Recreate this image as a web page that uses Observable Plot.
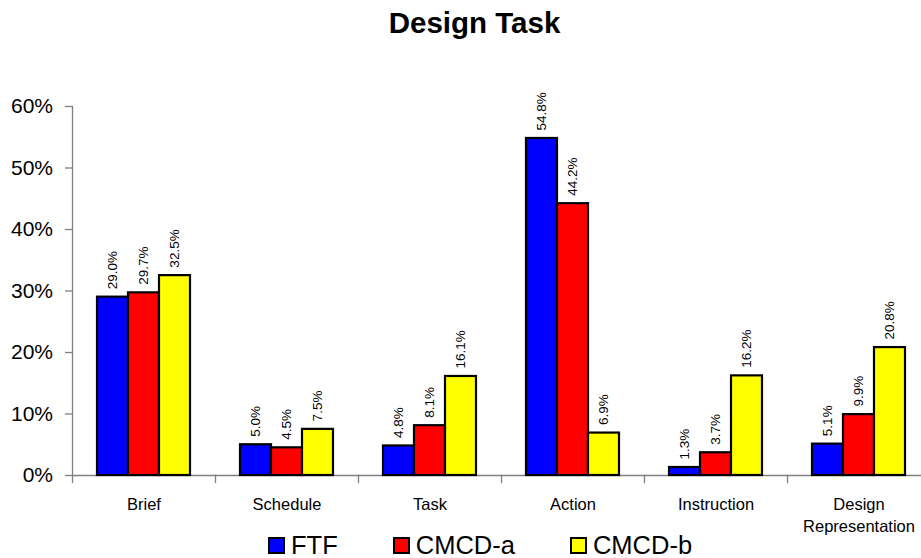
<!DOCTYPE html>
<html>
<head>
<meta charset="utf-8">
<script src="https://cdn.jsdelivr.net/npm/d3@7"></script>
<script src="https://cdn.jsdelivr.net/npm/@observablehq/plot@0.6"></script>
<style>
  body { margin: 0; background: #fff; font-family: "Liberation Sans", Arial, sans-serif; }
  #wrap { position: relative; width: 921px; height: 558px; overflow: hidden; }
  #title { position: absolute; left: 0; top: 8px; width: 949px; text-align: center;
           font: bold 29.5px "Liberation Sans", Arial, sans-serif; line-height: 30px; color: #000; }
  #chart { position: absolute; left: 0; top: 60px; }
  #legend { position: absolute; left: 268px; top: 532px; display: flex; align-items: center;
            font: 25.5px "Liberation Sans", Arial, sans-serif; line-height: 26px; color: #000; }
  .item { display: flex; align-items: center; margin-right: 55px; }
  .sw { width: 13px; height: 13px; border: 2px solid #000; margin-right: 6px; }
</style>
</head>
<body>
<div id="wrap">
  <div id="title">Design Task</div>
  <div id="chart"></div>
  <div id="legend"></div>
</div>
<script>
// Share of coded activity per category, by communication condition
const categories = ["Brief", "Schedule", "Task", "Action", "Instruction", "Design\nRepresentation"];
const series = ["FTF", "CMCD-a", "CMCD-b"];
const colors = ["#0000ff", "#ff0000", "#ffff00"];
const ftf   = [0.290, 0.050, 0.048, 0.548, 0.013, 0.051];
const cmcdA = [0.297, 0.045, 0.081, 0.442, 0.037, 0.099];
const cmcdB = [0.325, 0.075, 0.161, 0.069, 0.162, 0.208];
const yTicks = [0, 0.1, 0.2, 0.3, 0.4, 0.5, 0.6];

const seriesValues = [ftf, cmcdA, cmcdB];
const rows = categories.flatMap((category, i) =>
  series.map((s, j) => ({category, series: s, value: seriesValues[j][i]}))
);

const W = 921, H = 478;
const marginLeft = 70, marginTop = 46, marginBottom = 63;
const plotHeight = H - marginTop - marginBottom;
const pct1 = d3.format(".1%");
const axisGray = "#808080";

const chart = Plot.plot({
  width: W,
  height: H,
  marginLeft,
  marginRight: 0,
  marginTop,
  marginBottom,
  style: {fontFamily: "'Liberation Sans', Arial, sans-serif", background: "transparent", color: "#000", overflow: "visible"},
  fx: {domain: categories, range: [marginLeft, 931], padding: 0, label: null},
  x: {domain: series, paddingInner: 0, paddingOuter: 0.74, axis: null},
  y: {domain: [0, 0.6], label: null},
  color: {domain: series, range: colors},
  marks: [
    // category boundary ticks below the baseline
    Plot.frame({anchor: "left", insetTop: plotHeight, insetBottom: -7, stroke: axisGray, strokeWidth: 1.3}),
    // baseline
    Plot.frame({anchor: "bottom", stroke: axisGray, strokeWidth: 1.3}),
    // vertical value axis line
    Plot.frame({anchor: "left", facetAnchor: "left", stroke: axisGray, strokeWidth: 1.3}),
    Plot.axisY({
      ticks: yTicks,
      tickFormat: d3.format(".0%"),
      tickSize: 7,
      tickPadding: 12.5,
      fontSize: 21,
      stroke: axisGray,
      strokeWidth: 1.3,
      label: null,
      facetAnchor: "left"
    }),
    Plot.axisFx({
      anchor: "bottom",
      tickSize: 0,
      tickPadding: 19,
      fontSize: 16.5,
      lineHeight: 1.33,
      label: null
    }),
    Plot.barY(rows, {
      fx: "category",
      x: "series",
      y: "value",
      fill: "series",
      stroke: "#000",
      strokeWidth: 2.2
    }),
    Plot.text(rows, {
      fx: "category",
      x: "series",
      y: "value",
      text: d => pct1(d.value),
      rotate: -90,
      textAnchor: "start",
      dy: -8,
      fontSize: 13.5,
      fill: "#000"
    })
  ]
});
document.getElementById("chart").append(chart);

// legend below the chart
const legend = document.getElementById("legend");
series.forEach((s, j) => {
  const item = document.createElement("div");
  item.className = "item";
  const sw = document.createElement("span");
  sw.className = "sw";
  sw.style.background = colors[j];
  const label = document.createElement("span");
  label.textContent = s;
  item.append(sw, label);
  legend.append(item);
});
</script>
</body>
</html>
